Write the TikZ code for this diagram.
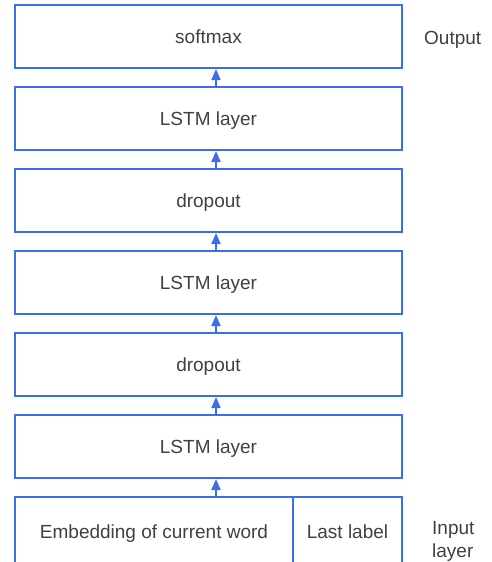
\documentclass[tikz,border=0pt]{standalone}
\usepackage{fontspec}
\setmainfont{Liberation Sans}
\usetikzlibrary{arrows.meta}
\definecolor{lineblue}{RGB}{60,110,232}
\definecolor{txtgray}{RGB}{64,64,64}
\begin{document}
\begin{tikzpicture}[x=1pt,y=-1pt,
  every node/.style={font=\fontsize{19}{23}\selectfont, text=txtgray},
  layer/.style={draw=lineblue, line width=2pt, rectangle, inner sep=0pt,
    minimum width=387pt, minimum height=63pt, text height=13.6pt, text depth=0pt},
  inbox/.style={draw=lineblue, line width=2pt, rectangle, inner sep=0pt,
    minimum height=69pt, text height=13.6pt, text depth=0pt},
  flow/.style={draw=lineblue, line width=2pt, -{Triangle[length=11pt,width=9pt]}},
  side/.style={align=left, text height=13.6pt, text depth=0pt, inner sep=0pt}
]
\clip (0,0) rectangle (492,562);
\node[layer] (soft) at (208.5,36.5) {softmax};
\node[layer] (l3) at (208.5,118.5) {LSTM layer};
\node[layer] (d2) at (208.5,200.5) {dropout};
\node[layer] (l2) at (208.5,282.5) {LSTM layer};
\node[layer] (d1) at (208.5,364.5) {dropout};
\node[layer] (l1) at (208.5,446.5) {LSTM layer};
\node[inbox, minimum width=278pt] (emb) at (154,531.5) {Embedding of current word\hspace{6pt}};
\node[inbox, minimum width=109pt] (last) at (347.5,531.5) {Last label};
\coordinate (ax) at (216,0);
\draw[flow] (ax |- emb.north) -- (ax |- l1.south);
\draw[flow] (ax |- l1.north) -- (ax |- d1.south);
\draw[flow] (ax |- d1.north) -- (ax |- l2.south);
\draw[flow] (ax |- l2.north) -- (ax |- d2.south);
\draw[flow] (ax |- d2.north) -- (ax |- l3.south);
\draw[flow] (ax |- l3.north) -- (ax |- soft.south);
\node[side, anchor=west] (out) at (424,38) {Output};
\node[side, anchor=west] (inl1) at (432,528) {Input};
\node[side, anchor=west] (inl2) at (432,551) {layer};
\end{tikzpicture}
\end{document}
